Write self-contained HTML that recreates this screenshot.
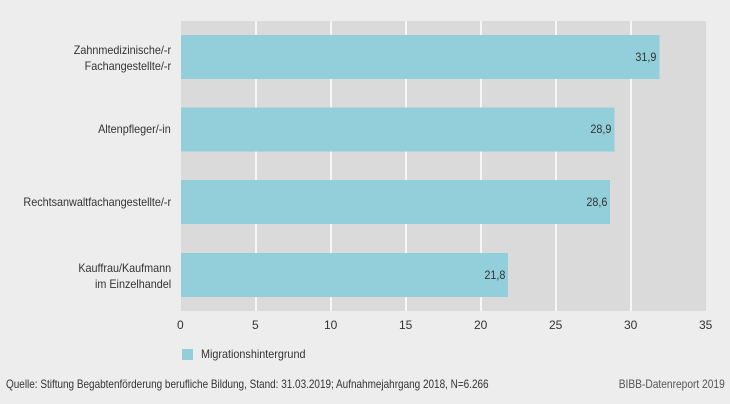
<!DOCTYPE html>
<html><head><meta charset="utf-8"><style>
body{margin:0;width:730px;height:404px;background:#ededee;font-family:"Liberation Sans",sans-serif;color:#333;position:relative;overflow:hidden}
.a{position:absolute;font-size:12px;white-space:nowrap}
.r{transform:scaleX(0.9);transform-origin:right center;text-align:right}
.l{transform:scaleX(0.9);transform-origin:left center}
</style></head><body>
<svg width="730" height="404" style="position:absolute;left:0;top:0">
<rect x="181" y="21" width="525" height="290" fill="#dadadb"/>
<g stroke="#fff" stroke-width="1.5">
<line x1="256" y1="21" x2="256" y2="311"/><line x1="331" y1="21" x2="331" y2="311"/>
<line x1="406" y1="21" x2="406" y2="311"/><line x1="481" y1="21" x2="481" y2="311"/>
<line x1="556" y1="21" x2="556" y2="311"/><line x1="631" y1="21" x2="631" y2="311"/>
</g>
<g fill="#93cfdb">
<rect x="181" y="35" width="478.5" height="44"/>
<rect x="181" y="107.5" width="433.5" height="44"/>
<rect x="181" y="180" width="429" height="44"/>
<rect x="181" y="253" width="327" height="44"/>
</g>
<rect x="182" y="349" width="11" height="11" fill="#93cfdb"/>
</svg>
<div class="a r" style="right:74px;top:50px">31,9</div>
<div class="a r" style="right:119px;top:122px">28,9</div>
<div class="a r" style="right:123px;top:195px">28,6</div>
<div class="a r" style="right:225px;top:268px">21,8</div>
<div class="a r" style="right:559px;top:42px;line-height:16px">Zahnmedizinische/-r<br>Fachangestellte/-r</div>
<div class="a r" style="right:559px;top:122px">Altenpfleger/-in</div>
<div class="a r" style="right:559px;top:195px">Rechtsanwaltfachangestellte/-r</div>
<div class="a r" style="right:559px;top:260px;line-height:16px">Kauffrau/Kaufmann<br>im Einzelhandel</div>
<div class="a" style="left:177px;top:318px">0</div>
<div class="a" style="left:252px;top:318px">5</div>
<div class="a" style="left:324px;top:318px">10</div>
<div class="a" style="left:399px;top:318px">15</div>
<div class="a" style="left:474px;top:318px">20</div>
<div class="a" style="left:549px;top:318px">25</div>
<div class="a" style="left:624px;top:318px">30</div>
<div class="a" style="left:699px;top:318px">35</div>
<div class="a l" style="left:201px;top:347px">Migrationshintergrund</div>
<div class="a" style="left:6px;top:377px;transform:scaleX(0.83);transform-origin:left center">Quelle: Stiftung Begabtenförderung berufliche Bildung, Stand: 31.03.2019; Aufnahmejahrgang 2018, N=6.266</div>
<div class="a" style="right:5px;top:377px;color:#555;transform:scaleX(0.85);transform-origin:right center">BIBB-Datenreport 2019</div>
</body></html>
